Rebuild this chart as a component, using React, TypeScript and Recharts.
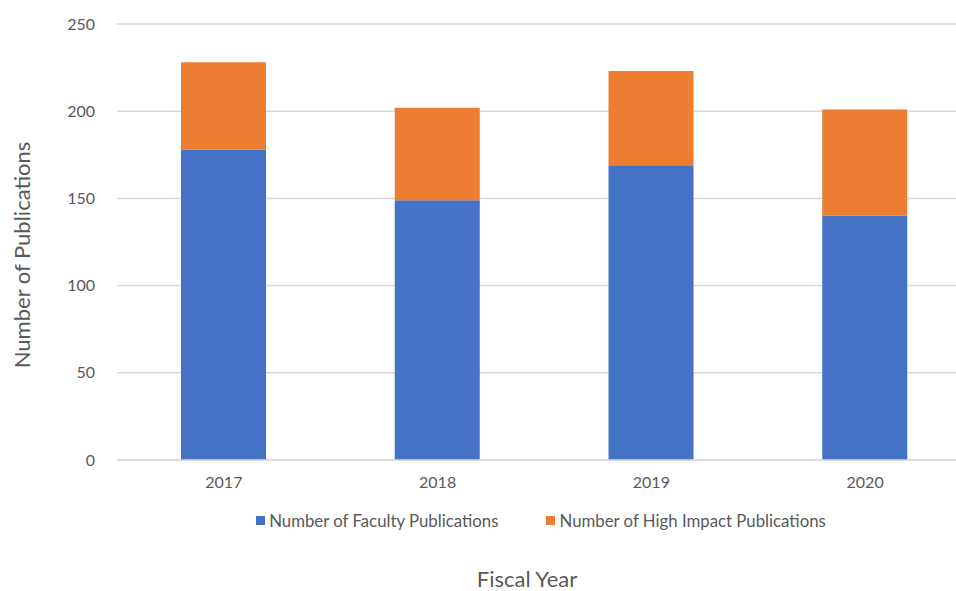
import { BarChart, Bar, XAxis, YAxis, CartesianGrid } from 'recharts';

const years = ['2017', '2018', '2019', '2020'];
const facultyPubs = [178, 149, 169, 140];
const highImpactPubs = [50, 53, 54, 61];
const yTicks = [0, 50, 100, 150, 200, 250];

const BLUE = '#4472c4';
const ORANGE = '#ed7d31';
const TEXT = '#595959';
const GRID = '#d9d9d9';
const FONT = 'Lato, "Open Sans", sans-serif';

const data = years.map((year, i) => ({
  year,
  faculty: facultyPubs[i],
  highImpact: highImpactPubs[i],
}));

const legendItems = [
  { label: 'Number of Faculty Publications', color: BLUE },
  { label: 'Number of High Impact Publications', color: ORANGE },
];

function ChartLegend() {
  return (
    <div
      style={{
        position: 'absolute',
        top: 510,
        left: 0,
        width: 1082,
        display: 'flex',
        justifyContent: 'center',
        gap: 48,
        fontFamily: FONT,
        fontSize: 16.8,
        color: TEXT,
      }}
    >
      {legendItems.map((item) => (
        <div key={item.label} style={{ display: 'flex', alignItems: 'center' }}>
          <span style={{ width: 9, height: 9, background: item.color, marginRight: 4, display: 'inline-block' }} />
          {item.label}
        </div>
      ))}
    </div>
  );
}

export default function App() {
  return (
    <div style={{ position: 'fixed', left: 0, top: 0, width: 956, height: 591, overflow: 'hidden', background: '#fff' }}>
      <BarChart
        width={972}
        height={591}
        data={data}
        margin={{ top: 24, right: 0, left: 0, bottom: 101 }}
        barSize={85}
      >
        <CartesianGrid vertical={false} stroke={GRID} strokeWidth={1.5} />
        <XAxis
          dataKey="year"
          axisLine={{ stroke: GRID, strokeWidth: 1.5 }}
          tickLine={false}
          tick={{ fill: TEXT, fontSize: 16, fontFamily: FONT }}
          tickMargin={11}
        />
        <YAxis
          domain={[0, 250]}
          ticks={yTicks}
          width={117}
          axisLine={false}
          tickLine={false}
          tick={{ fill: TEXT, fontSize: 16, fontFamily: FONT }}
          tickMargin={16}
          label={{
            value: 'Number of Publications',
            angle: -90,
            position: 'insideLeft',
            offset: 22,
            dy: 13,
            style: { fill: TEXT, fontSize: 22, fontFamily: FONT, textAnchor: 'middle' },
          }}
        />
        <Bar dataKey="faculty" stackId="a" fill={BLUE} isAnimationActive={false} />
        <Bar dataKey="highImpact" stackId="a" fill={ORANGE} isAnimationActive={false} />
        <text x={527} y={587} textAnchor="middle" fill={TEXT} fontSize={22} fontFamily={FONT}>
          Fiscal Year
        </text>
      </BarChart>
      <ChartLegend />
    </div>
  );
}
